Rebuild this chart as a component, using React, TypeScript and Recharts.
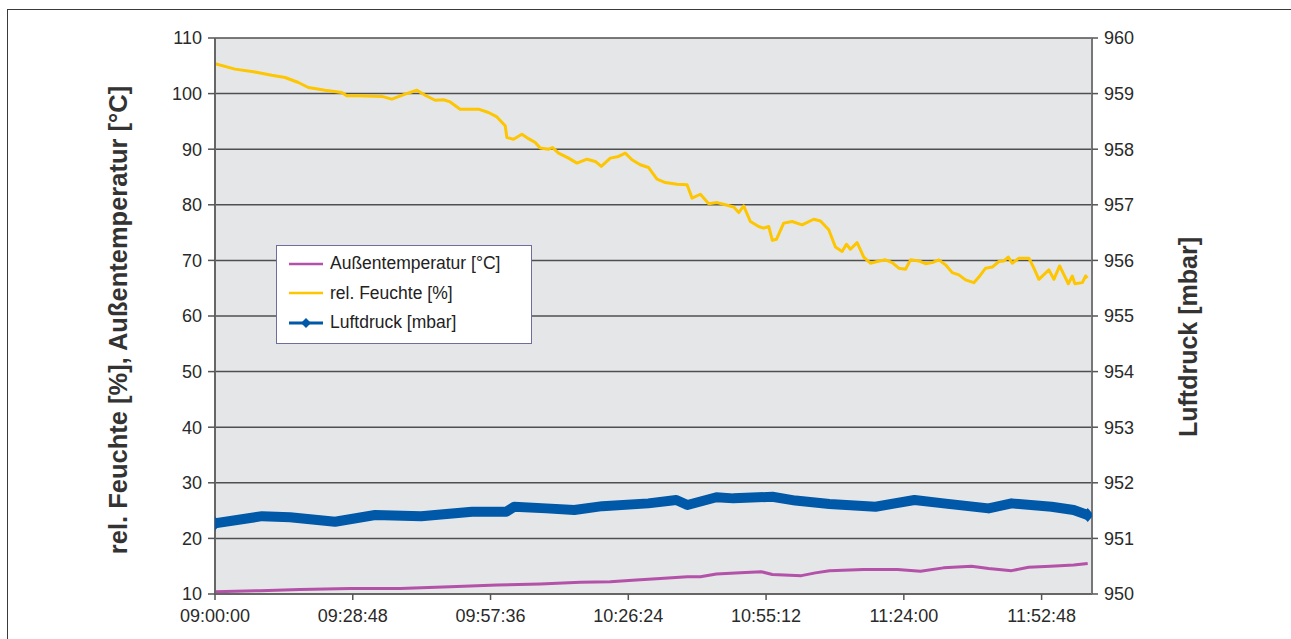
import React from 'react';
import { LineChart, Line, XAxis, YAxis, CartesianGrid, Legend } from 'recharts';

// seconds after 09:00:00
const humidityTimes = [
  0, 251, 502, 712, 879, 1046, 1171, 1381, 1590, 1653, 1799, 2092, 2218, 2385, 2532, 2636, 2761, 2866, 2950,
  3075, 3305, 3430, 3536, 3640, 3661, 3744, 3849, 3933, 4017, 4079, 4184, 4234, 4309, 4435, 4540, 4666, 4770,
  4845, 4958, 5062, 5146, 5230, 5334, 5439, 5544, 5648, 5795, 5921, 5984, 6088, 6193, 6298, 6402, 6506, 6569,
  6631, 6715, 6819, 6882, 6945, 6991, 7042, 7133, 7239, 7364, 7510, 7594, 7698, 7782, 7866, 7920, 7970, 8054,
  8137, 8221, 8305, 8409, 8494, 8577, 8661, 8724, 8828, 8912, 8996, 9079, 9163, 9247, 9330, 9414, 9518, 9581,
  9665, 9749, 9832, 9895, 9950, 10000, 10083, 10209, 10271, 10334, 10459, 10522, 10594, 10703, 10753, 10786,
  10879, 10920, 10941,
];
const humidity = [
  105.4, 104.4, 103.9, 103.3, 102.9, 102.0, 101.1, 100.6, 100.2, 99.6, 99.6, 99.5, 99.0, 99.9, 100.6, 99.7, 98.8,
  98.9, 98.5, 97.2, 97.2, 96.6, 95.8, 94.2, 92.1, 91.8, 92.7, 91.9, 91.2, 90.2, 90.0, 90.3, 89.3, 88.4, 87.5,
  88.2, 87.8, 86.9, 88.4, 88.7, 89.3, 88.1, 87.2, 86.7, 84.6, 84.0, 83.7, 83.6, 81.2, 81.9, 80.2, 80.4, 80.0,
  79.6, 78.6, 79.8, 77.0, 76.1, 75.8, 76.1, 73.6, 73.8, 76.7, 77.0, 76.4, 77.4, 77.1, 75.5, 72.4, 71.6, 72.9,
  72.0, 73.2, 70.6, 69.5, 69.8, 70.1, 69.6, 68.6, 68.4, 70.1, 69.9, 69.4, 69.6, 70.1, 69.2, 67.8, 67.4, 66.5,
  66.0, 67.0, 68.6, 68.8, 69.8, 69.9, 70.6, 69.5, 70.4, 70.4, 68.6, 66.6, 68.3, 66.6, 69.0, 65.8, 67.2, 65.8,
  66.0, 67.2, 66.8,
];

const tempTimes = [
  0, 565, 1067, 1695, 2322, 2950, 3540, 4079, 4581, 4958, 5284, 5586, 5925, 6088, 6289, 6590, 6853, 6991, 7355,
  7531, 7707, 8133, 8560, 8849, 9138, 9489, 9703, 9991, 10205, 10481, 10770, 10946,
];
const temperature = [
  10.4, 10.6, 10.8, 11.0, 11.0, 11.3, 11.6, 11.8, 12.1, 12.2, 12.5, 12.8, 13.1, 13.1, 13.6, 13.8, 14.0, 13.5,
  13.3, 13.8, 14.2, 14.4, 14.4, 14.1, 14.7, 15.0, 14.6, 14.2, 14.8, 15.0, 15.2, 15.5,
];

const pressureTimes = [
  0, 590, 941, 1506, 2008, 2586, 3226, 3653, 3753, 4155, 4506, 4858, 5435, 5786, 5925, 6289, 6502, 6991, 7280,
  7707, 8284, 8774, 9138, 9703, 9991, 10493, 10770, 10946,
];
const pressure = [
  951.27, 951.4, 951.38, 951.3, 951.42, 951.4, 951.48, 951.48, 951.57, 951.54, 951.51, 951.58, 951.63, 951.69,
  951.6, 951.74, 951.72, 951.75, 951.68, 951.62, 951.57, 951.69, 951.63, 951.54, 951.63, 951.57, 951.51, 951.42,
];

const xTicks = [0, 1728, 3456, 5184, 6912, 8640, 10368];
const leftTicks = [10, 20, 30, 40, 50, 60, 70, 80, 90, 100, 110];
const rightTicks = [950, 951, 952, 953, 954, 955, 956, 957, 958, 959, 960];

const COLORS = { temp: '#b352a8', hum: '#fdc600', press: '#0058a8' };
const FONT = '"Liberation Sans", Arial, Helvetica, sans-serif';

const buildData = () => {
  const rows = new Map<number, any>();
  const put = (times: number[], vals: number[], key: string) => {
    times.forEach((t, i) => {
      if (!rows.has(t)) rows.set(t, { t });
      rows.get(t)[key] = vals[i];
    });
  };
  put(humidityTimes, humidity, 'hum');
  put(tempTimes, temperature, 'temp');
  put(pressureTimes, pressure, 'press');
  return Array.from(rows.values()).sort((a, b) => a.t - b.t);
};

const data = buildData();

const formatTime = (s: number) => {
  const total = 9 * 3600 + s;
  const pad = (n: number) => String(n).padStart(2, '0');
  return `${pad(Math.floor(total / 3600))}:${pad(Math.floor((total % 3600) / 60))}:${pad(total % 60)}`;
};

const legendItems = [
  { label: 'Außentemperatur [°C]', color: COLORS.temp, marker: false },
  { label: 'rel. Feuchte [%]', color: COLORS.hum, marker: false },
  { label: 'Luftdruck [mbar]', color: COLORS.press, marker: true },
];

const renderLegend = () => (
  <div
    style={{
      width: 256,
      height: 99,
      boxSizing: 'border-box',
      border: '1.5px solid #6e6e9e',
      background: '#fff',
      paddingTop: 3,
      fontFamily: FONT,
      fontSize: 17.5,
      color: '#222',
    }}
  >
    {legendItems.map((item) => (
      <div key={item.label} style={{ display: 'flex', alignItems: 'center', height: 29.5 }}>
        <svg width={34} height={12} style={{ marginLeft: 12, marginRight: 7 }}>
          <line x1={0} y1={6} x2={34} y2={6} stroke={item.color} strokeWidth={item.marker ? 3 : 2.5} />
          {item.marker && <path d="M17,1 L22,6 L17,11 L12,6 Z" fill={item.color} />}
        </svg>
        <span>{item.label}</span>
      </div>
    ))}
  </div>
);

const pressureDot = (props: any) => {
  const { cx, cy, index } = props;
  const last = pressureTimes.length - 1;
  const key = `pd-${index}`;
  if (cx == null || cy == null) return <g key={key} />;
  const isEnd = props.payload && (props.payload.t === 0 || props.payload.t === pressureTimes[last]);
  if (!isEnd) return <g key={key} />;
  return <path key={key} d={`M${cx},${cy - 7} L${cx + 6},${cy} L${cx},${cy + 7} L${cx - 6},${cy} Z`} fill={COLORS.press} />;
};

const leftTitle = () => (
  <text
    x={118}
    y={320}
    transform="rotate(-90 118 320)"
    textAnchor="middle"
    dominantBaseline="central"
    fontFamily={FONT}
    fontWeight="bold"
    fontSize={25.5}
    fill="#333"
  >
    rel. Feuchte [%], Außentemperatur [°C]
  </text>
);

const rightTitle = () => (
  <text
    x={1188}
    y={337}
    transform="rotate(-90 1188 337)"
    textAnchor="middle"
    dominantBaseline="central"
    fontFamily={FONT}
    fontWeight="bold"
    fontSize={25}
    fill="#333"
  >
    Luftdruck [mbar]
  </text>
);

const tickStyle = { fontSize: 18, fill: '#2a2a2a', fontFamily: FONT };

export default function App() {
  return (
    <div style={{ position: 'absolute', left: 0, top: 0, width: 1291, height: 639, background: '#fff' }}>
      <div
        style={{
          position: 'absolute',
          left: 7,
          top: 9,
          width: 1284,
          height: 630,
          borderTop: '1.5px solid #3a3a3a',
          borderLeft: '1.5px solid #3a3a3a',
        }}
      />
      <LineChart
        width={1291}
        height={639}
        data={data}
        margin={{ top: 38, right: 0, bottom: 15, left: 0 }}
        style={{ position: 'absolute', left: 0, top: 0 }}
      >
        <CartesianGrid
          yAxisId="left"
          vertical={false}
          stroke="#4f4f4f"
          strokeWidth={1.5}
          fill="#e5e6e8"
          fillOpacity={1}
        />
        <XAxis
          dataKey="t"
          type="number"
          domain={[0, 11000]}
          ticks={xTicks}
          allowDataOverflow
          tickFormatter={formatTime}
          height={30}
          tickSize={6}
          tickMargin={9}
          tick={tickStyle}
          axisLine={{ stroke: '#666', strokeWidth: 2 }}
          tickLine={{ stroke: '#555', strokeWidth: 1.5 }}
        />
        <YAxis
          yAxisId="left"
          width={215}
          domain={[10, 110]}
          ticks={leftTicks}
          allowDataOverflow
          tickSize={7}
          tickMargin={6}
          tick={tickStyle}
          axisLine={{ stroke: '#666', strokeWidth: 2 }}
          tickLine={{ stroke: '#555', strokeWidth: 1.5 }}
          label={leftTitle}
        />
        <YAxis
          yAxisId="right"
          orientation="right"
          width={199}
          domain={[950, 960]}
          ticks={rightTicks}
          allowDataOverflow
          tickSize={6}
          tickMargin={6}
          tick={{ ...tickStyle, textAnchor: 'start' }}
          axisLine={{ stroke: '#777', strokeWidth: 2 }}
          tickLine={{ stroke: '#555', strokeWidth: 1.5 }}
          label={rightTitle}
        />
        <Legend
          layout="vertical"
          align="center"
          verticalAlign="middle"
          content={renderLegend}
          wrapperStyle={{ left: 276, top: 245, width: 256, height: 99 }}
        />
        <Line
          yAxisId="right"
          dataKey="press"
          name="Luftdruck [mbar]"
          stroke={COLORS.press}
          strokeWidth={10}
          strokeLinejoin="round"
          dot={pressureDot}
          connectNulls
          isAnimationActive={false}
        />
        <Line
          yAxisId="left"
          dataKey="temp"
          name="Außentemperatur [°C]"
          stroke={COLORS.temp}
          strokeWidth={3}
          strokeLinejoin="round"
          dot={false}
          connectNulls
          isAnimationActive={false}
        />
        <Line
          yAxisId="left"
          dataKey="hum"
          name="rel. Feuchte [%]"
          stroke={COLORS.hum}
          strokeWidth={3}
          strokeLinejoin="round"
          dot={false}
          connectNulls
          isAnimationActive={false}
        />
      </LineChart>
    </div>
  );
}
